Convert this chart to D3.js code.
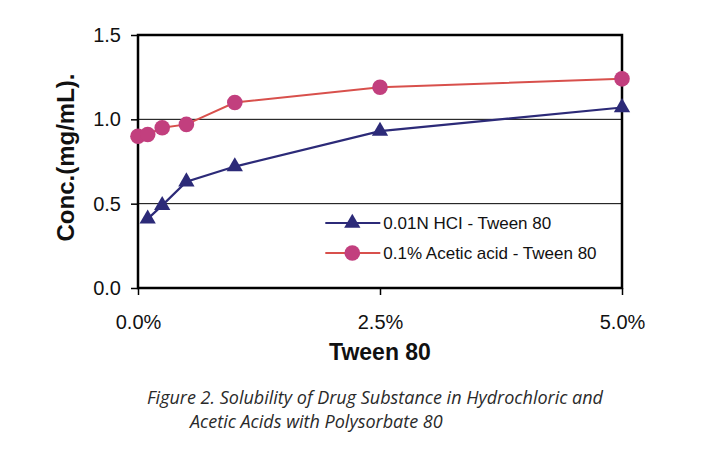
<!DOCTYPE html>
<html>
<head>
<meta charset="utf-8">
<script src="https://cdn.jsdelivr.net/npm/d3@7"></script>
<style>
  body { margin: 0; background: #fff; }
  svg { display: block; }
</style>
</head>
<body>
<div id="chart"></div>
<script>
// data
const tweenPct = [0, 0.1, 0.25, 0.5, 1.0, 2.5, 5.0];
const hclConc = [null, 0.41, 0.49, 0.63, 0.72, 0.93, 1.07];
const aceticConc = [0.90, 0.91, 0.95, 0.97, 1.10, 1.19, 1.24];
const yTicks = [0, 0.5, 1.0, 1.5];
const xTicks = [0, 2.5, 5.0];
const seriesNames = ["0.01N HCI - Tween 80", "0.1% Acetic acid - Tween 80"];

const width = 714, height = 455;
const margin = { top: 35, right: 92, bottom: 167, left: 138 };
const innerW = width - margin.left - margin.right;
const innerH = height - margin.top - margin.bottom;

const blue = "#2c2a78";
const pinkLine = "#d8504c";
const pinkDot = "#c23f7e";
const font = "Arial, 'Liberation Sans', sans-serif";

const svg = d3.select("#chart").append("svg")
    .attr("width", width)
    .attr("height", height);

const g = svg.append("g")
    .attr("transform", `translate(${margin.left},${margin.top})`);

const x = d3.scaleLinear().domain([0, 5]).range([0, innerW]);
const y = d3.scaleLinear().domain([0, 1.5]).range([innerH, 0]);

// gridlines
g.append("g")
    .selectAll("line")
    .data([0.5, 1.0])
    .join("line")
    .attr("x1", 0).attr("x2", innerW)
    .attr("y1", d => y(d)).attr("y2", d => y(d))
    .attr("stroke", "#000")
    .attr("stroke-width", 1);

// axes
const yAxis = g.append("g")
    .call(d3.axisLeft(y).tickValues(yTicks).tickFormat(d3.format(".1f")).tickSize(7).tickPadding(10));
const xAxis = g.append("g")
    .attr("transform", `translate(0,${innerH})`)
    .call(d3.axisBottom(x).tickValues(xTicks).tickFormat(d => d.toFixed(1) + "%").tickSize(7).tickPadding(20));

[yAxis, xAxis].forEach(a => {
    a.select(".domain").remove();
    a.selectAll("line").attr("stroke", "#000").attr("stroke-width", 1.5);
    a.selectAll("text")
        .attr("fill", "#111")
        .style("font-family", font)
        .style("font-size", "20px");
});

// frame
g.append("rect")
    .attr("x", 0).attr("y", 0)
    .attr("width", innerW).attr("height", innerH)
    .attr("fill", "none")
    .attr("stroke", "#000")
    .attr("stroke-width", 2.5);

// series
const hclData = tweenPct.map((p, i) => ({ p, v: hclConc[i] })).filter(d => d.v != null);
const aceticData = tweenPct.map((p, i) => ({ p, v: aceticConc[i] }));

const line = d3.line().x(d => x(d.p)).y(d => y(d.v));
const tri = d3.symbol().type(d3.symbolTriangle).size(115);

g.append("path")
    .datum(aceticData)
    .attr("d", line)
    .attr("fill", "none")
    .attr("stroke", pinkLine)
    .attr("stroke-width", 2);

g.append("path")
    .datum(hclData)
    .attr("d", line)
    .attr("fill", "none")
    .attr("stroke", blue)
    .attr("stroke-width", 2.2);

g.selectAll(".dot")
    .data(aceticData)
    .join("circle")
    .attr("class", "dot")
    .attr("cx", d => x(d.p))
    .attr("cy", d => y(d.v))
    .attr("r", 7.8)
    .attr("fill", pinkDot);

g.selectAll(".tri")
    .data(hclData)
    .join("path")
    .attr("class", "tri")
    .attr("transform", d => `translate(${x(d.p)},${y(d.v)})`)
    .attr("d", tri)
    .attr("fill", blue);

// legend
const legend = g.append("g")
    .attr("transform", `translate(${x(1.935)},${y(0.385)})`);

const legendRows = [
    { name: seriesNames[0], color: blue, marker: "tri" },
    { name: seriesNames[1], color: pinkLine, marker: "dot" }
];

legendRows.forEach((r, i) => {
    const row = legend.append("g").attr("transform", `translate(0,${i * 30})`);
    row.append("line")
        .attr("x1", 0).attr("x2", 55)
        .attr("stroke", r.color)
        .attr("stroke-width", 2);
    if (r.marker === "tri") {
        row.append("path").attr("d", tri).attr("transform", "translate(27,0)").attr("fill", blue);
    } else {
        row.append("circle").attr("cx", 27).attr("r", 7.8).attr("fill", pinkDot);
    }
    row.append("text")
        .attr("x", 58)
        .attr("dy", "0.35em")
        .attr("fill", "#111")
        .style("font-family", font)
        .style("font-size", "17px")
        .text(r.name);
});

// axis titles
svg.append("text")
    .attr("x", margin.left + innerW / 2)
    .attr("y", 360)
    .attr("text-anchor", "middle")
    .style("font-family", font)
    .style("font-size", "23px")
    .style("font-weight", "bold")
    .attr("fill", "#111")
    .text("Tween 80");

svg.append("text")
    .attr("transform", `translate(74,${margin.top + innerH / 2 - 4}) rotate(-90)`)
    .attr("text-anchor", "middle")
    .style("font-family", font)
    .style("font-size", "24px")
    .style("font-weight", "bold")
    .attr("fill", "#111")
    .text("Conc.(mg/mL).");

// caption
const caption = svg.append("g")
    .style("font-family", "'Open Sans', 'Noto Sans', sans-serif")
    .style("font-style", "italic")
    .style("font-size", "18px")
    .attr("fill", "#2a2a2a");

caption.append("text")
    .attr("x", 147).attr("y", 404)
    .text("Figure 2. Solubility of Drug Substance in Hydrochloric and");
caption.append("text")
    .attr("x", 190).attr("y", 428)
    .text("Acetic Acids with Polysorbate 80");
</script>
</body>
</html>
